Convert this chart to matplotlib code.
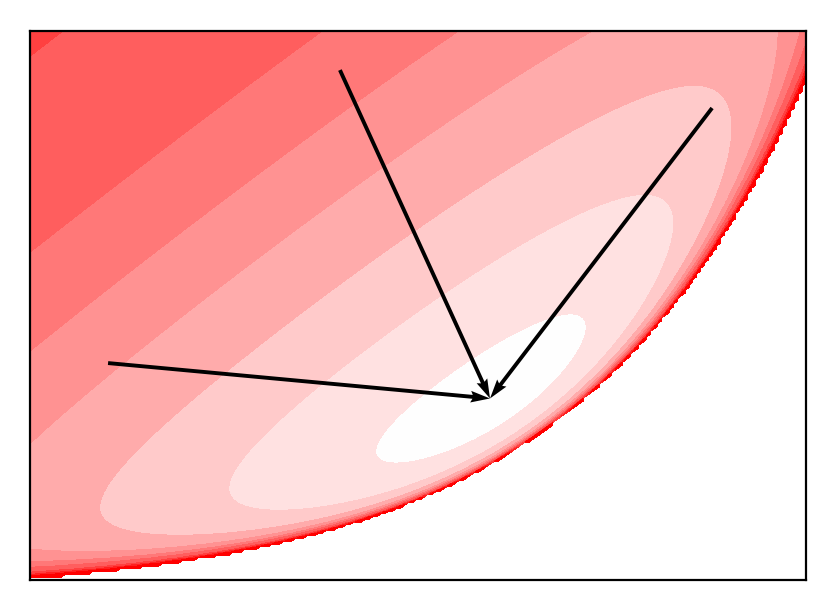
import math
import numpy as np
import matplotlib
matplotlib.use('Agg')
import matplotlib.pyplot as plt

# gamma family in mean coordinates: x = E[log X], y = E[X]  (valid only for y > exp(x))
x_range = [0.0, 3.33]
y_range = [1.0, 30.94]

# target distribution (where the arrows end)
target_shape = 1.371
target_rate = 0.1267
kl_weight = 0.75  # weight of KL(p||q), rest goes to KL(q||p)

# arrows: start points and common end point
arrow_x0 = [0.335, 1.330, 2.927]
arrow_y0 = [12.83, 28.81, 26.74]
arrow_x1 = [1.974, 1.974, 1.974]
arrow_y1 = [10.90, 10.90, 10.90]

# divergence contour levels and fill colours
kl_levels = [-0.001, 0.095, 0.40, 0.76, 1.16, 1.56, 2.03, 3.0, 4.0, 5.5]
band_colors = ['#fefefe', '#ffe1e1', '#ffcaca', '#ffabab', '#ff9292',
               '#ff7878', '#ff5e5e', '#ff4040', '#ff2020', '#ff0000']

lgamma = np.vectorize(math.lgamma)


def digamma(a):
    a = np.array(a, float)
    res = np.zeros_like(a)
    small = a < 6
    while small.any():
        res[small] -= 1 / a[small]
        a[small] += 1
        small = a < 6
    a2 = 1 / (a * a)
    return res + np.log(a) - 0.5 / a - a2 * (1/12 - a2 * (1/120 - a2 / 252))


def shape_from_mean(x, y):
    # solve log(a) - digamma(a) = log(y) - x by bisection on log(a)
    t = np.log(y) - x
    lo = np.full_like(t, -10.0)
    hi = np.full_like(t, 15.0)
    for _ in range(60):
        mid = 0.5 * (lo + hi)
        a = np.exp(mid)
        up = (np.log(a) - digamma(a)) > t
        lo = np.where(up, mid, lo)
        hi = np.where(up, hi, mid)
    return np.exp(0.5 * (lo + hi))


def gamma_kl(a1, b1, a2, b2):
    return ((a1 - a2) * digamma(a1) - lgamma(a1) + lgamma(a2)
            + a2 * (np.log(b1) - np.log(b2)) + a1 * (b2 - b1) / b1)


xs = np.linspace(x_range[0], x_range[1], 200)
ys = np.linspace(y_range[0], y_range[1], 200)
X, Y = np.meshgrid(xs, ys)
valid = Y > np.exp(X) * 1.0005
Z = np.full(X.shape, np.nan)
shape = shape_from_mean(X[valid], Y[valid])
rate = shape / Y[valid]
Z[valid] = (kl_weight * gamma_kl(shape, rate, target_shape, target_rate)
            + (1 - kl_weight) * gamma_kl(target_shape, target_rate, shape, rate))

fig = plt.figure(figsize=(8.35, 6.1), dpi=100)
ax = fig.add_axes([30/835, 30/610, 776/835, 549/610])
cs = ax.contourf(X, Y, Z, levels=kl_levels, colors=band_colors[:-1], extend='max')
cs.cmap.set_over(band_colors[-1])

ax.quiver(arrow_x0, arrow_y0,
          np.subtract(arrow_x1, arrow_x0), np.subtract(arrow_y1, arrow_y0),
          angles='xy', scale_units='xy', scale=1, width=0.005, color='k', zorder=3)

ax.set_xlim(x_range)
ax.set_ylim(y_range)
ax.set_xticks([])
ax.set_yticks([])
for s in ax.spines.values():
    s.set_linewidth(1.6)
fig.savefig('out.png', dpi=100)
